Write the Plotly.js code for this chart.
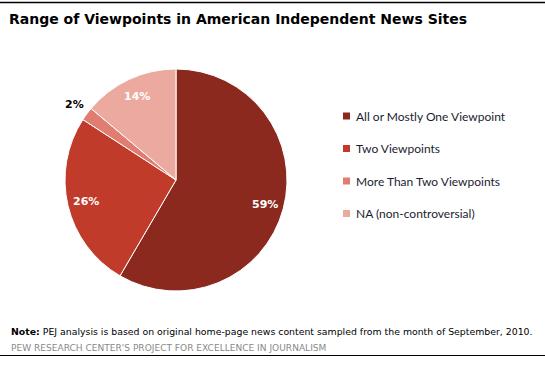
<!DOCTYPE html>
<html><head><meta charset="utf-8">
<script src="https://cdn.plot.ly/plotly-3.0.1.min.js"></script>
<style>body{margin:0;background:#fff}#chart{width:545px;height:365px}</style>
</head><body><div id="chart"></div>
<script>
const categories = ["All or Mostly One Viewpoint", "Two Viewpoints", "More Than Two Viewpoints", "NA (non-controversial)"];
const values = [59, 26, 2, 14];
const valueLabels = ["59%", "26%", "2%", "14%"];
const colors = ["#8c291e", "#c03b2a", "#e07d70", "#eba9a0"];
const titleText = "Range of Viewpoints in American Independent News Sites";
const noteText = "<b>Note:</b> PEJ analysis is based on original home-page news content sampled from the month of September, 2010.";
const sourceText = "PEW RESEARCH CENTER'S PROJECT FOR EXCELLENCE IN JOURNALISM";

const W = 545, H = 365;
const px = x => x / W, py = y => 1 - y / H;
const CX = 176, CY = 180, R = 111;

const trace = {
  type: "pie",
  values: values,
  labels: categories,
  text: valueLabels,
  textinfo: "none",
  sort: false,
  direction: "clockwise",
  rotation: 0,
  marker: { colors: colors, line: { color: "#ffffff", width: 1 } },
  domain: { x: [px(CX - R), px(CX + R)], y: [py(CY + R), py(CY - R)] },
  showlegend: false,
  hoverinfo: "label+text"
};

const annotations = [];
const shapes = [
  { type: "line", xref: "paper", yref: "paper", x0: 0, x1: 1, y0: py(2.5), y1: py(2.5), line: { color: "#000", width: 1.5 } },
  { type: "line", xref: "paper", yref: "paper", x0: 0, x1: 1, y0: py(355.5), y1: py(355.5), line: { color: "#000", width: 1 } }
];

// slice labels placed along each slice's mid-angle
const total = values.reduce((a, b) => a + b, 0);
let cum = 0;
values.forEach((v, i) => {
  const mid = (cum + v / 2) / total * 2 * Math.PI;
  cum += v;
  const small = v / total < 0.05;
  const d = small ? R * 1.14 : R * 0.83;
  annotations.push({
    xref: "paper", yref: "paper",
    x: px(CX + d * Math.sin(mid)), y: py(CY - d * Math.cos(mid)),
    xanchor: "center", yanchor: "middle", showarrow: false,
    text: "<b>" + valueLabels[i] + "</b>",
    font: { family: "DejaVu Sans", size: 11, color: small ? "#000" : "#fff" }
  });
});

categories.forEach((c, i) => {
  const yc = 116 + i * 32.5;
  shapes.push({ type: "rect", xref: "paper", yref: "paper", x0: px(343), x1: px(350), y0: py(yc + 3.5), y1: py(yc - 3.5), fillcolor: colors[i], line: { width: 0 } });
  annotations.push({ xref: "paper", yref: "paper", x: px(354), y: py(yc), xanchor: "left", yanchor: "middle", showarrow: false, text: c, font: { family: "Lato", size: 12, color: "#1c1c30" } });
});
annotations.push({ xref: "paper", yref: "paper", x: px(9), y: py(331), xanchor: "left", yanchor: "middle", showarrow: false, text: noteText, font: { family: "DejaVu Sans", size: 9.35, color: "#000" } });
annotations.push({ xref: "paper", yref: "paper", x: px(9), y: py(348), xanchor: "left", yanchor: "middle", showarrow: false, text: sourceText, font: { family: "DejaVu Sans", size: 9.05, color: "#8a8a8a" } });

const layout = {
  width: W, height: H,
  margin: { l: 0, r: 0, t: 0, b: 0 },
  paper_bgcolor: "#fff",
  title: { text: "<b>" + titleText + "</b>", x: px(9), xanchor: "left", y: py(19), yanchor: "middle", font: { family: "DejaVu Sans", size: 14, color: "#000" } },
  annotations: annotations,
  shapes: shapes,
  showlegend: false
};
Plotly.newPlot("chart", [trace], layout, { displayModeBar: false, staticPlot: true });
</script></body></html>
